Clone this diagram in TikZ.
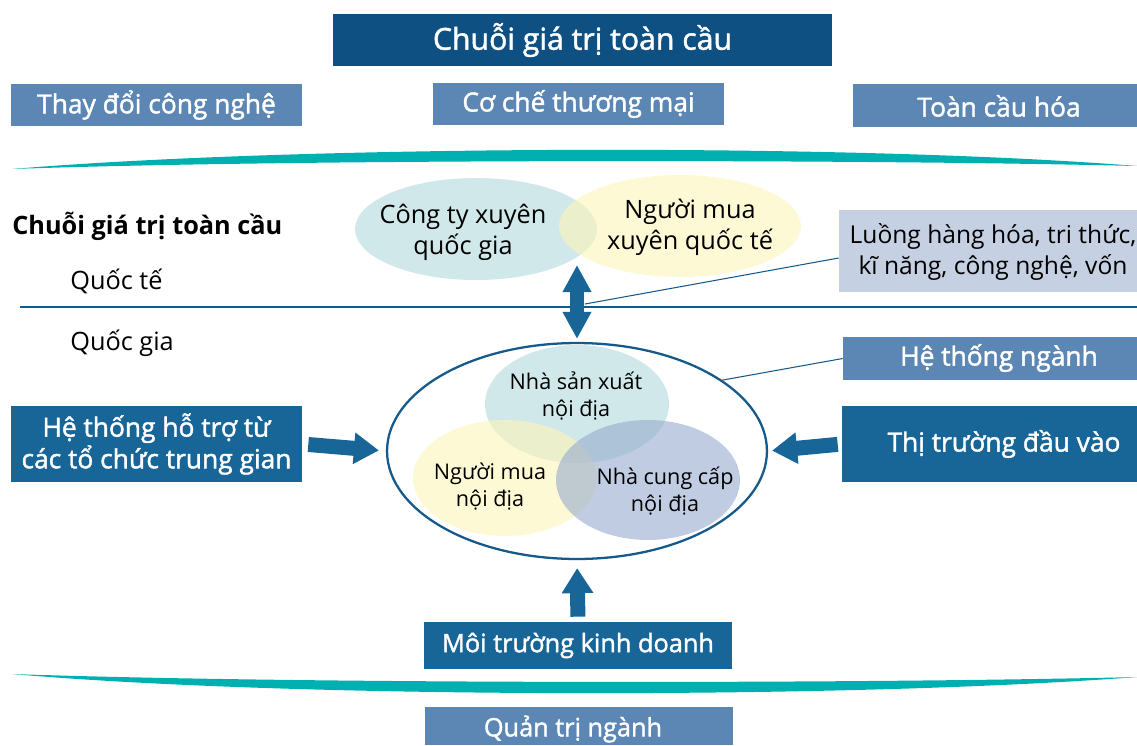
\documentclass[tikz,border=0pt]{standalone}
\usepackage{fontspec}
\setmainfont{Open Sans}
\newfontface\semibold{Open Sans}[FakeBold=1.6]
\usetikzlibrary{shapes.geometric,arrows.meta}
\definecolor{navy}{RGB}{14,80,130}
\definecolor{deepblue}{RGB}{24,101,152}
\definecolor{steel}{RGB}{92,135,180}
\definecolor{lavender}{RGB}{197,208,227}
\definecolor{swoosh}{RGB}{0,176,176}
\definecolor{tealfill}{RGB}{176,216,218}
\definecolor{creamfill}{RGB}{253,245,185}
\definecolor{slatefill}{RGB}{150,170,205}
\definecolor{rulecol}{RGB}{22,90,140}
\newcommand\fsz[2]{\fontsize{#1}{#2}\selectfont}
\begin{document}
\begin{tikzpicture}[x=0.02cm,y=-0.02cm,
  panel/.style={inner sep=0pt, text=white, font=\semibold\fsz{15pt}{18pt}, align=center},
  lightpanel/.style={panel, fill=steel},
  darkpanel/.style={panel, fill=deepblue},
  label text/.style={inner sep=0pt, align=center, text=black},
  blob/.style={ellipse, inner sep=0pt, fill opacity=0.6},
  blockarrow/.style={draw=deepblue, line width=0.3cm,
    -{Triangle[width=0.6cm,length=0.5cm]}},
  twoway/.style={draw=deepblue, line width=0.27cm,
    {Triangle[width=0.54cm,length=0.54cm]}-{Triangle[width=0.54cm,length=0.54cm]}},
  thinline/.style={draw=rulecol, line width=0.6pt}]
\useasboundingbox (0,0) rectangle (1137,745);

% header
\node[panel, fill=navy, minimum width=9.98cm, minimum height=1.04cm,
      font=\semibold\fsz{17.2pt}{20pt}] (title) at (582.5,40) {Chuỗi giá trị toàn cầu};
\node[lightpanel, minimum width=5.82cm, minimum height=0.84cm] (tech) at (156.5,105) {Thay đổi công nghệ};
\node[lightpanel, minimum width=5.82cm, minimum height=0.84cm] (trade) at (578.5,104) {Cơ chế thương mại};
\node[lightpanel, minimum width=5.68cm, minimum height=0.86cm] (glob) at (995,105.5) {};
\node[panel] (globtext) at (999,106) {Toàn cầu hóa};

% upper swoosh
\fill[swoosh] (12,169) .. controls (300,145) and (850,143) .. (1137,166)
              .. controls (850,159) and (300,159) .. (12,169) -- cycle;

% global level
\node[label text, anchor=west, font=\bfseries\fsz{14.4pt}{17pt}] (gvc) at (12,226) {Chuỗi giá trị toàn cầu};
\node[label text, anchor=west, font=\fsz{14.4pt}{17pt}] (intl) at (70,281) {Quốc tế};
\node[label text, anchor=west, font=\fsz{14.4pt}{17pt}] (natl) at (70,343) {Quốc gia};

\node[blob, fill=tealfill, minimum width=4.84cm, minimum height=2.04cm] (tnc) at (476,229) {};
\node[blob, fill=creamfill, minimum width=4.84cm, minimum height=2.04cm] (gbuyer) at (680,226) {};
\node[label text, font=\fsz{14.4pt}{17.6pt}] (tnctext) at (463,232) {Công ty xuyên\\quốc gia};
\node[label text, font=\fsz{14.4pt}{17.6pt}] (gbuyertext) at (690,227) {Người mua\\xuyên quốc tế};

\node[inner sep=0pt, fill=lavender, minimum width=5.96cm, minimum height=1.64cm] (flows) at (988,251) {};
\node[label text, font=\fsz{14pt}{17.6pt}] (flowstext) at (993,252) {Luồng hàng hóa, tri thức,\\kĩ năng, công nghệ, vốn};

% border between international and national
\coordinate (ruleL) at (20,307);
\coordinate (ruleR) at (1137,307);
\draw[draw=rulecol, line width=1.3pt] (ruleL) -- (ruleR);

% national industry system
\node[ellipse, draw=rulecol, line width=1.3pt, inner sep=0pt,
      minimum width=7.6cm, minimum height=4.32cm] (sys) at (577,451) {};
\node[blob, fill=tealfill, minimum width=3.68cm, minimum height=2.36cm] (prod) at (577,404) {};
\node[blob, fill=creamfill, minimum width=3.68cm, minimum height=2.32cm] (dbuyer) at (505,478) {};
\node[blob, fill=slatefill, minimum width=3.68cm, minimum height=2.4cm] (supp) at (648,480) {};
\node[label text, font=\fsz{12.3pt}{15.3pt}] (prodtext) at (576,396) {Nhà sản xuất\\nội địa};
\node[label text, font=\fsz{12.3pt}{15.3pt}] (dbuyertext) at (490,487) {Người mua\\nội địa};
\node[label text, font=\fsz{12.3pt}{15.3pt}] (supptext) at (665,491) {Nhà cung cấp\\nội địa};

\node[lightpanel, minimum width=5.88cm, minimum height=0.86cm] (sysbox) at (990,358.5) {};
\node[panel] (sysboxtext) at (999,358) {Hệ thống ngành};

% two-way exchange across the border
\coordinate (flowtop) at (577,265);
\coordinate (flowmid) at (585,304);
\draw[twoway] (flowtop) -- ([yshift=0.06cm]sys.north);
\draw[thinline] (flowmid) -- ([yshift=-0.14cm]flows.west);
\draw[thinline] (sys.26) -- (sysbox.west);

% surrounding influences
\node[darkpanel, minimum width=5.82cm, minimum height=1.52cm] (support) at (156.5,444)
  {Hệ thống hỗ trợ từ\\các tổ chức trung gian};
\node[darkpanel, minimum width=5.9cm, minimum height=1.52cm] (market) at (989.5,444) {};
\node[panel] (markettext) at (1004,444) {Thị trường đầu vào};
\node[darkpanel, minimum width=6.16cm, minimum height=0.94cm, font=\semibold\fsz{14.4pt}{18pt}] (env) at (578,645.5) {Môi trường kinh doanh};

\draw[blockarrow, shorten <=0.12cm, shorten >=0.14cm] (support.east) -- (sys.west);
\draw[blockarrow, shorten <=0.08cm, shorten >=0.08cm] (market.west) -- (sys.east);
\draw[blockarrow, shorten <=0.1cm, shorten >=0.16cm] (env.north) -- (sys.south);

% lower swoosh and governance
\fill[swoosh] (12,674) .. controls (300,684) and (850,684) .. (1137,677)
              .. controls (850,699) and (300,699) .. (12,674) -- cycle;
\node[lightpanel, minimum width=6.16cm, minimum height=0.76cm] (gov) at (579,726) {};
\node[panel, font=\semibold\fsz{14.4pt}{18pt}] (govtext) at (573,729) {Quản trị ngành};
\end{tikzpicture}
\end{document}
